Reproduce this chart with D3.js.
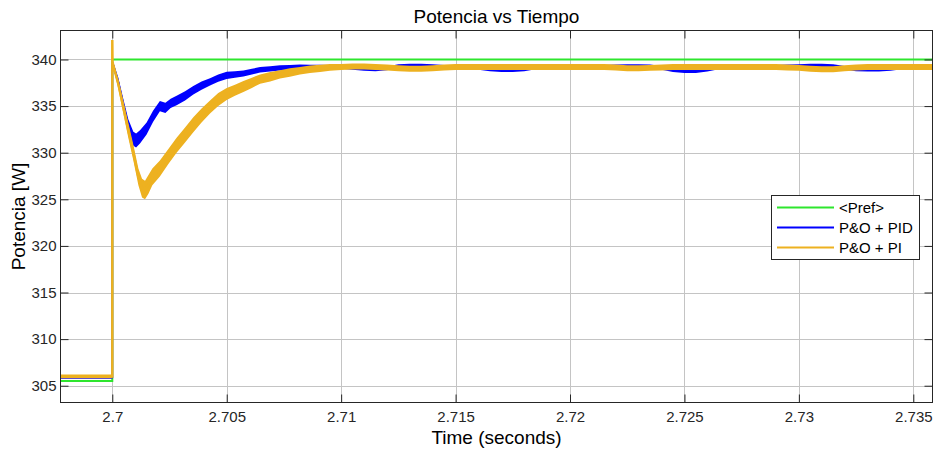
<!DOCTYPE html>
<html>
<head>
<meta charset="utf-8">
<script src="https://cdn.jsdelivr.net/npm/d3@7"></script>
<style>
  html, body { margin: 0; padding: 0; background: #ffffff; }
  svg { display: block; font-family: "Liberation Sans", Arial, sans-serif; }
</style>
</head>
<body>
<svg id="chart" width="934" height="452"></svg>
<script>
// Power response after the reference step at t = 2.7 s

// Reference power <Pref>
const refTime  = [2.697737, 2.7, 2.7, 2.735839];
const refValue = [305.5, 305.5, 340.0, 340.0];

// Transient part (step and recovery)
const pidTransTime = [2.697737, 2.7, 2.7, 2.70003, 2.70026, 2.70048, 2.7007, 2.70092, 2.70104, 2.70121,
  2.7015, 2.70178, 2.70208, 2.70232, 2.70255, 2.70281, 2.70318, 2.70354, 2.7039, 2.70427,
  2.70463, 2.705, 2.70536, 2.70573, 2.7061, 2.70646, 2.7069, 2.70733, 2.70776, 2.7082,
  2.70864, 2.70908, 2.70951];
const pidTransValue = [305.9, 305.9, 339.6, 339.5, 337.6, 335.2, 332.9, 331.5, 331.3, 331.7,
  332.6, 333.9, 335.0, 334.8, 335.3, 335.6, 336.1, 336.7, 337.2, 337.6,
  338.0, 338.3, 338.4, 338.5, 338.7, 338.9, 339.0, 339.1, 339.15, 339.2,
  339.2, 339.2, 339.2];
const pidTransSpread = [0.15, 0.15, 0, 0.3, 0.5, 0.6, 0.7, 0.75, 0.75, 0.7,
  0.65, 0.6, 0.55, 0.55, 0.5, 0.5, 0.5, 0.45, 0.45, 0.4,
  0.4, 0.38, 0.35, 0.33, 0.3, 0.3, 0.28, 0.27, 0.26, 0.25,
  0.24, 0.23, 0.22];

const piTransTime = [2.697737, 2.7, 2.7, 2.70001, 2.70026, 2.70048, 2.7007, 2.70092, 2.70114, 2.7013,
  2.70143, 2.70158, 2.70175, 2.70208, 2.70245, 2.70281, 2.70318, 2.70354, 2.7039, 2.70427,
  2.70463, 2.705, 2.70536, 2.70573, 2.7061, 2.70646, 2.7069, 2.70733, 2.70776, 2.7082,
  2.70864, 2.70908, 2.70951];
const piTransValue = [306.0, 306.0, 342.1, 339.7, 337.4, 334.9, 332.4, 330.0, 327.4, 326.2,
  326.0, 326.6, 327.4, 328.3, 329.6, 330.8, 331.9, 333.0, 334.0, 334.9,
  335.7, 336.3, 336.7, 337.1, 337.5, 337.9, 338.15, 338.4, 338.6, 338.8,
  338.95, 339.05, 339.15];
const piTransSpread = [0.2, 0.2, 0, 0.25, 0.5, 0.7, 0.8, 0.85, 0.9, 1.0,
  1.0, 1.0, 0.9, 0.85, 0.8, 0.8, 0.8, 0.8, 0.75, 0.7,
  0.7, 0.65, 0.6, 0.6, 0.55, 0.5, 0.5, 0.45, 0.45, 0.4,
  0.4, 0.38, 0.36];

// Steady-state part (small periodic ripple)
const settleTime = [2.7100, 2.7105, 2.7110, 2.7115, 2.7120, 2.7125, 2.7130, 2.7135, 2.7140, 2.7145,
  2.7150, 2.7155, 2.7160, 2.7165, 2.7170, 2.7175, 2.7180, 2.7185, 2.7190, 2.7195,
  2.7200, 2.7205, 2.7210, 2.7215, 2.7220, 2.7225, 2.7230, 2.7235, 2.7240, 2.7245,
  2.7250, 2.7255, 2.7260, 2.7265, 2.7270, 2.7275, 2.7280, 2.7285, 2.7290, 2.7295,
  2.7300, 2.7305, 2.7310, 2.7315, 2.7320, 2.7325, 2.7330, 2.7335, 2.7340, 2.7345,
  2.7350, 2.7355, 2.735839];
const pidSettleValue = [339.2, 339.1, 339.0, 338.95, 339.05, 339.3, 339.35, 339.35, 339.3, 339.2,
  339.2, 339.2, 339.1, 338.95, 338.85, 338.85, 338.95, 339.15, 339.2, 339.25,
  339.25, 339.2, 339.2, 339.2, 339.25, 339.3, 339.3, 339.25, 339.1, 338.85,
  338.75, 338.75, 338.9, 339.15, 339.2, 339.2, 339.15, 339.15, 339.2, 339.25,
  339.3, 339.35, 339.35, 339.3, 339.1, 338.95, 338.9, 338.9, 339.0, 339.15,
  339.2, 339.2, 339.2];
const piSettleValue = [339.2, 339.25, 339.25, 339.2, 339.15, 339.05, 339.0, 339.0, 339.05, 339.15,
  339.2, 339.2, 339.2, 339.2, 339.2, 339.2, 339.2, 339.2, 339.2, 339.2,
  339.2, 339.2, 339.2, 339.2, 339.15, 339.05, 339.05, 339.1, 339.15, 339.2,
  339.2, 339.2, 339.2, 339.2, 339.2, 339.2, 339.2, 339.2, 339.2, 339.15,
  339.1, 339.0, 338.95, 338.95, 339.05, 339.15, 339.2, 339.2, 339.2, 339.2,
  339.2, 339.2, 339.2];
const pidSettleSpread = 0.2;
const piSettleSpread = 0.32;

// Axis ticks
const xTicks = [2.7, 2.705, 2.71, 2.715, 2.72, 2.725, 2.73, 2.735];
const xTickLabels = ["2.7", "2.705", "2.71", "2.715", "2.72", "2.725", "2.73", "2.735"];
const yTicks = [305, 310, 315, 320, 325, 330, 335, 340];
const yTickLabels = ["305", "310", "315", "320", "325", "330", "335", "340"];

const seriesNames = ["<Pref>", "P&O + PID", "P&O + PI"];
const seriesColors = ["#2ee62e", "#0000ff", "#edb120"];

// ---------------------------------------------------------------
const svg = d3.select("#chart");
const plot = { left: 60.5, right: 932.5, top: 30.5, bottom: 402.5 };
const ink = "#262626";

const x = d3.scaleLinear().domain([2.697737, 2.735839]).range([plot.left, plot.right]);
const y = d3.scaleLinear().domain([303.2, 343.11]).range([plot.bottom, plot.top]);

function build(tt, vv, ss) {
  return tt.map((t, i) => ({ t, v: vv[i], s: typeof ss === "number" ? ss : ss[i] }));
}
const pidData = build(pidTransTime, pidTransValue, pidTransSpread)
  .concat(build(settleTime, pidSettleValue, pidSettleSpread));
const piData = build(piTransTime, piTransValue, piTransSpread)
  .concat(build(settleTime, piSettleValue, piSettleSpread));
const refData = refTime.map((t, i) => ({ t, v: refValue[i] }));

// Grid
const grid = svg.append("g");
grid.selectAll("line.gx").data(xTicks).join("line")
  .attr("x1", d => Math.round(x(d)) + 0.5).attr("x2", d => Math.round(x(d)) + 0.5)
  .attr("y1", plot.top).attr("y2", plot.bottom)
  .attr("stroke", "#c4c4c4").attr("stroke-width", 1);
grid.selectAll("line.gy").data(yTicks).join("line")
  .attr("y1", d => Math.round(y(d)) + 0.5).attr("y2", d => Math.round(y(d)) + 0.5)
  .attr("x1", plot.left).attr("x2", plot.right)
  .attr("stroke", "#c4c4c4").attr("stroke-width", 1);

// Clip
svg.append("clipPath").attr("id", "clip").append("rect")
  .attr("x", plot.left).attr("y", plot.top)
  .attr("width", plot.right - plot.left).attr("height", plot.bottom - plot.top);
const marks = svg.append("g").attr("clip-path", "url(#clip)");

const band = d3.area().x(d => x(d.t)).y0(d => y(d.v - d.s)).y1(d => y(d.v + d.s));
const line = d3.line().x(d => x(d.t)).y(d => y(d.v));

// <Pref>
marks.append("path").datum(refData).attr("d", line)
  .attr("fill", "none").attr("stroke", seriesColors[0]).attr("stroke-width", 2);

// P&O + PID
marks.append("path").datum(pidData).attr("d", band).attr("fill", seriesColors[1]);
marks.append("path").datum(pidData).attr("d", line)
  .attr("fill", "none").attr("stroke", seriesColors[1]).attr("stroke-width", 1.8);

// P&O + PI
marks.append("path").datum(piData).attr("d", band).attr("fill", seriesColors[2]);
marks.append("path").datum(piData).attr("d", line)
  .attr("fill", "none").attr("stroke", seriesColors[2]).attr("stroke-width", 2.5);

// Axes frame with inward ticks on all sides
const axes = svg.append("g");
const tickLen = 8;
axes.append("rect")
  .attr("x", plot.left).attr("y", plot.top)
  .attr("width", plot.right - plot.left).attr("height", plot.bottom - plot.top)
  .attr("fill", "none").attr("stroke", ink).attr("stroke-width", 1);

const xAxisB = d3.axisBottom(x).tickValues(xTicks).tickSize(-tickLen)
  .tickFormat((d, i) => xTickLabels[i]).tickPadding(9);
const xAxisT = d3.axisTop(x).tickValues(xTicks).tickSize(-tickLen).tickFormat("");
const yAxisL = d3.axisLeft(y).tickValues(yTicks).tickSize(-tickLen)
  .tickFormat((d, i) => yTickLabels[i]).tickPadding(4);
const yAxisR = d3.axisRight(y).tickValues(yTicks).tickSize(-tickLen).tickFormat("");

function styleAxis(g) {
  g.select(".domain").remove();
  g.selectAll(".tick line").attr("stroke", ink);
  g.selectAll(".tick text").attr("fill", ink).attr("font-size", "15px")
    .attr("font-family", "'Liberation Sans', Arial, sans-serif");
}
axes.append("g").attr("transform", `translate(0,${plot.bottom})`).call(xAxisB).call(styleAxis);
axes.append("g").attr("transform", `translate(0,${plot.top})`).call(xAxisT).call(styleAxis);
axes.append("g").attr("transform", `translate(${plot.left},0)`).call(yAxisL).call(styleAxis);
axes.append("g").attr("transform", `translate(${plot.right},0)`).call(yAxisR).call(styleAxis);

// Titles
const midX = (plot.left + plot.right) / 2;
svg.append("text").attr("x", midX).attr("y", 23).attr("text-anchor", "middle")
  .attr("font-size", "19px").attr("fill", "#000").text("Potencia vs Tiempo");
svg.append("text").attr("x", midX).attr("y", 444).attr("text-anchor", "middle")
  .attr("font-size", "19px").attr("fill", "#000").text("Time (seconds)");
svg.append("text")
  .attr("transform", `translate(25,${(plot.top + plot.bottom) / 2}) rotate(-90)`)
  .attr("text-anchor", "middle").attr("font-size", "19px").attr("fill", "#000")
  .text("Potencia [W]");

// Legend
const legend = svg.append("g");
legend.append("rect").attr("x", 771.5).attr("y", 195.5).attr("width", 148).attr("height", 64)
  .attr("fill", "#ffffff").attr("stroke", ink).attr("stroke-width", 1);
seriesNames.forEach((name, i) => {
  const ly = 207.5 + i * 20;
  legend.append("line").attr("x1", 777).attr("x2", 834).attr("y1", ly).attr("y2", ly)
    .attr("stroke", seriesColors[i]).attr("stroke-width", 2);
  legend.append("text").attr("x", 839).attr("y", ly).attr("dy", "0.35em")
    .attr("font-size", "15px").attr("fill", "#000").text(name);
});
</script>
</body>
</html>
